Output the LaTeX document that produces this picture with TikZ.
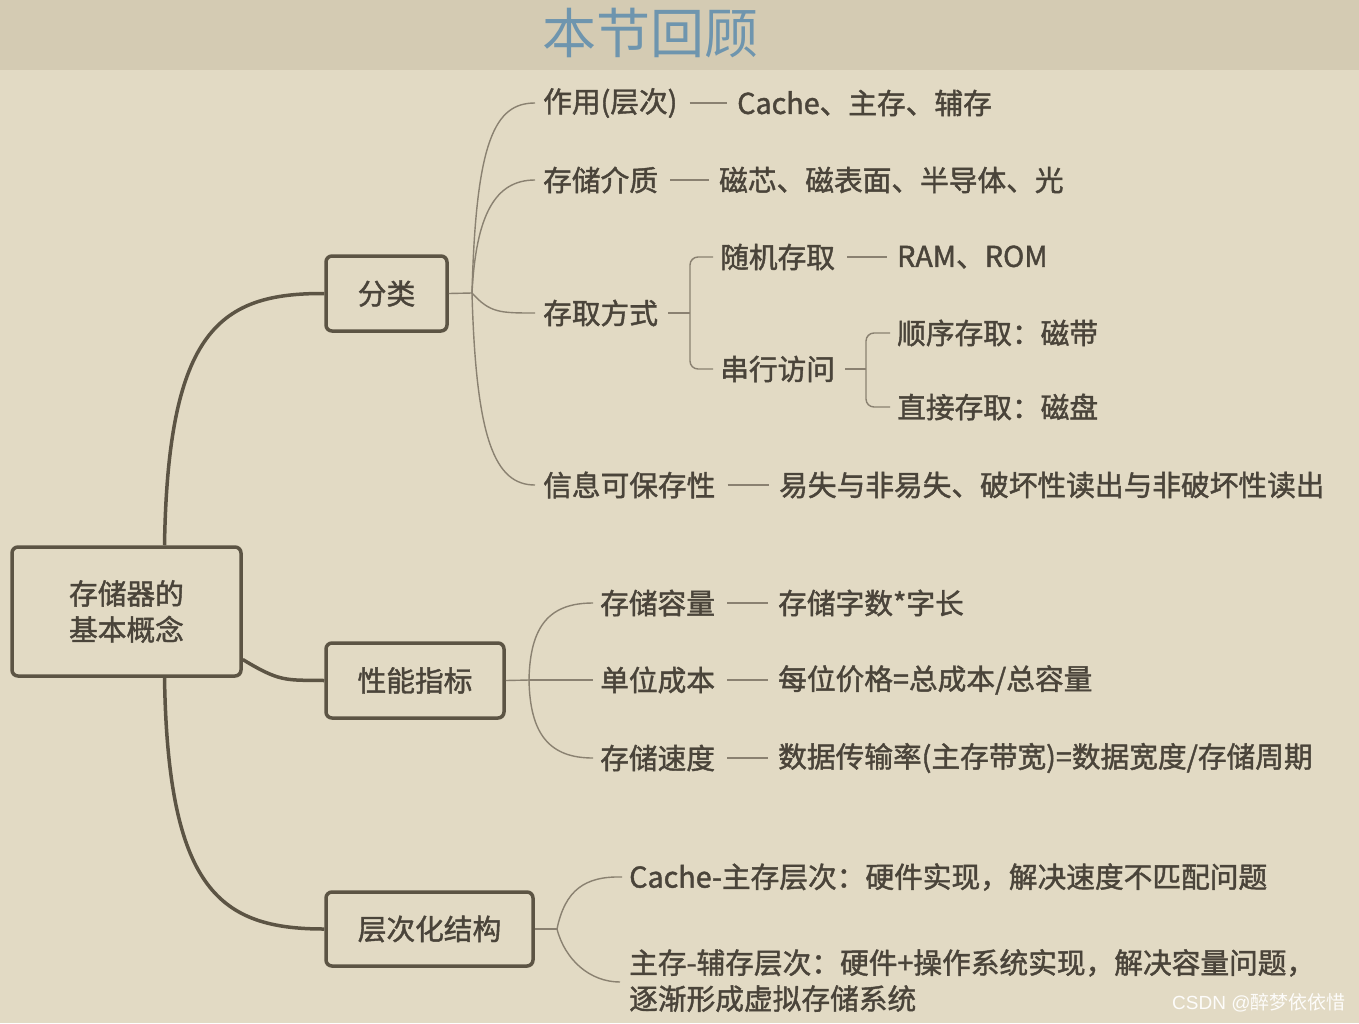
\documentclass[tikz,border=0pt]{standalone}
\usepackage{fontspec}
\setmainfont{Noto Sans CJK SC}[FakeBold=1.5]
\newfontfamily\titlefont{Noto Sans CJK SC}
\newfontfamily\wmfont{Liberation Sans}
\newfontfamily\wmcjk{Noto Sans CJK SC}
\definecolor{bgc}{HTML}{E2DAC4}
\definecolor{bandc}{HTML}{D4CBB3}
\definecolor{titlec}{HTML}{6E95AE}
\definecolor{txtc}{HTML}{4A443A}
\definecolor{mainc}{HTML}{5C5444}
\definecolor{subc}{HTML}{8A8171}
\begin{document}
\begin{tikzpicture}[x=1pt,y=-1pt,
  every node/.style={text=txtc},
  lbl/.style={anchor=west,inner sep=0pt,font=\fontsize{28.7}{36}\selectfont},
  boxn/.style={draw=mainc,line width=3.5pt,rounded corners=6pt,inner sep=0pt,font=\fontsize{28.7}{36}\selectfont,align=center},
  mainline/.style={draw=mainc,line width=3.5pt},
  subline/.style={draw=subc,line width=1.4pt},
  dashline/.style={draw=subc,line width=1.4pt,shorten <=12pt,shorten >=10pt}]
\useasboundingbox (0,0) rectangle (1359,1023);
\fill[bgc] (0,0) rectangle (1359,1023);
\fill[bandc] (0,0) rectangle (1359,70);
\node[inner sep=0pt,text=titlec,font=\titlefont\fontsize{54}{60}\selectfont] (title) at (650,33) {本节回顾};

% main boxes
\node[boxn,minimum width=229pt,minimum height=129pt] (root) at (126.5,611.5) {存储器的\\基本概念};
\node[boxn,minimum width=121pt,minimum height=75pt] (fl) at (386.5,293.5) {分类};
\node[boxn,minimum width=178pt,minimum height=75pt] (xn) at (415,680.5) {性能指标};
\node[boxn,minimum width=207pt,minimum height=74pt] (cc) at (429.5,929) {层次化结构};

% main curves
\draw[mainline] ([xshift=38pt]root.north) .. controls (168,330) and (220,293) .. (fl.west);
\draw[mainline] ([xshift=38pt]root.south) .. controls (168,890) and (220,929) .. (cc.west);
\draw[mainline] ([yshift=-48pt]root.east) .. controls (280,682) and (285,680) .. (xn.west);

% 分类 children
\node[lbl] (a1) at (543,103) {作用(层次)};
\node[lbl] (a1v) at (737,103) {Cache、主存、辅存};
\node[lbl] (a2) at (543,180) {存储介质};
\node[lbl] (a2v) at (719,180) {磁芯、磁表面、半导体、光};
\node[lbl] (a3) at (543,313) {存取方式};
\node[lbl] (a4) at (543,485) {信息可保存性};
\node[lbl] (a4v) at (779,485) {易失与非易失、破坏性读出与非破坏性读出};
\node[lbl] (b1) at (720,257) {随机存取};
\node[lbl] (b1v) at (897,257) {RAM、ROM};
\node[lbl] (b2) at (720,369) {串行访问};
\node[lbl] (c1) at (897,333) {顺序存取：磁带};
\node[lbl] (c2) at (897,407) {直接存取：磁盘};

\coordinate (fj) at (472,293);
\draw[subline] (fl.east) -- (fj);
\draw[subline] (fj) .. controls (476,140) and (495,103) .. ([xshift=-8pt]a1.west);
\draw[subline] (fj) .. controls (476,215) and (495,180) .. ([xshift=-8pt]a2.west);
\draw[subline] (fj) .. controls (490,313) and (500,313) .. ([xshift=-8pt]a3.west);
\draw[subline] (fj) .. controls (476,440) and (495,485) .. ([xshift=-8pt]a4.west);
\draw[dashline] (a1.east) -- (a1v.west);
\draw[dashline] (a2.east) -- (a2v.west);
\draw[dashline] (a4.east) -- (a4v.west);
\draw[dashline] (b1.east) -- (b1v.west);

\coordinate (sj) at (690,313);
\draw[subline] ([xshift=10pt]a3.east) -- (sj);
\draw[subline,rounded corners=8pt] ([xshift=-7pt]b1.west) -| (sj) |- ([xshift=-7pt]b2.west);
\coordinate (tj) at (866,369);
\draw[subline] ([xshift=10pt]b2.east) -- (tj);
\draw[subline,rounded corners=8pt] ([xshift=-7pt]c1.west) -| (tj) |- ([xshift=-7pt]c2.west);

% 性能指标 children
\node[lbl] (d1) at (600,603) {存储容量};
\node[lbl] (d1v) at (778,603) {存储字数*字长};
\node[lbl] (d2) at (600,680) {单位成本};
\node[lbl] (d2v) at (778,680) {每位价格=总成本/总容量};
\node[lbl] (d3) at (600,758) {存储速度};
\node[lbl] (d3v) at (778,758) {数据传输率(主存带宽)=数据宽度/存储周期};
\coordinate (xj) at (529,680);
\draw[subline] (xn.east) -- (xj);
\draw[subline] (xj) .. controls (530,625) and (550,603) .. ([xshift=-7pt]d1.west);
\draw[subline] (xj) -- ([xshift=-7pt]d2.west);
\draw[subline] (xj) .. controls (530,735) and (550,758) .. ([xshift=-7pt]d3.west);
\draw[dashline] (d1.east) -- (d1v.west);
\draw[dashline] (d2.east) -- (d2v.west);
\draw[dashline] (d3.east) -- (d3v.west);

% 层次化结构 children
\node[lbl] (e1) at (629,877) {Cache-主存层次：硬件实现，解决速度不匹配问题};
\node[lbl,align=left,anchor=north west] (e2) at (629,949) {主存-辅存层次：硬件+操作系统实现，解决容量问题，\\逐渐形成虚拟存储系统};
\coordinate (cj) at (557,929);
\draw[subline] (cc.east) -- (cj);
\draw[subline] (cj) .. controls (565,890) and (585,876) .. ([xshift=-7pt]e1.west);
\draw[subline] (cj) .. controls (565,960) and (590,982) .. (620,982);

% watermark
\node[anchor=west,inner sep=0pt,text=white!92!bgc,font=\fontsize{19}{22}\selectfont] (wm) at (1172,1003) {\wmfont CSDN @\wmcjk 醉梦依依惜};
\end{tikzpicture}
\end{document}
